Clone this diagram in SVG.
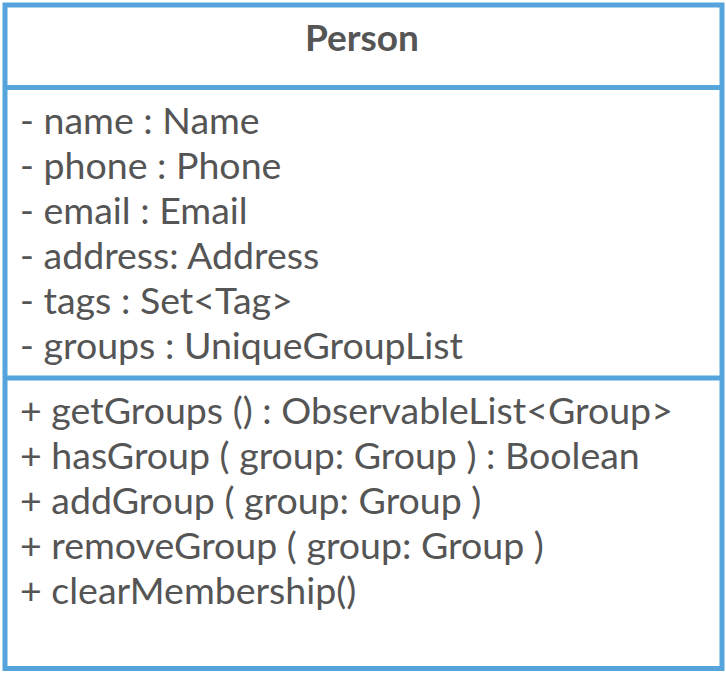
<svg xmlns="http://www.w3.org/2000/svg" width="726" height="674" viewBox="0 0 726 674">
<style>
.box{fill:#fff;stroke:#55a5dc;stroke-width:5}
.div{stroke:#55a5dc;stroke-width:5}
.t{font-family:Lato,"Open Sans",sans-serif;font-size:37.5px;fill:#555555}
.h{font-family:Lato,"Open Sans",sans-serif;font-size:37px;font-weight:bold;fill:#555555}
</style>
<rect width="726" height="674" fill="#ffffff"/>
<g id="Person">
<rect class="box" x="5" y="5" width="717" height="663.5"/>
<line class="div" x1="5" y1="87.5" x2="722" y2="87.5"/>
<line class="div" x1="5" y1="378" x2="722" y2="378"/>
<text class="h" x="362" y="51" text-anchor="middle">Person</text>
<text class="t" x="20" y="134">- name : Name</text>
<text class="t" x="20" y="179">- phone : Phone</text>
<text class="t" x="20" y="224">- email : Email</text>
<text class="t" x="20" y="269">- address: Address</text>
<text class="t" x="20" y="314">- tags : Set&lt;Tag&gt;</text>
<text class="t" x="20" y="359">- groups : UniqueGroupList</text>
<text class="t" x="20" y="424">+ getGroups () : ObservableList&lt;Group&gt;</text>
<text class="t" x="20" y="469">+ hasGroup ( group: Group ) : Boolean</text>
<text class="t" x="20" y="514">+ addGroup ( group: Group )</text>
<text class="t" x="20" y="559">+ removeGroup ( group: Group )</text>
<text class="t" x="20" y="604">+ clearMembership()</text>
</g>
<g id="connectors"/>
</svg>
